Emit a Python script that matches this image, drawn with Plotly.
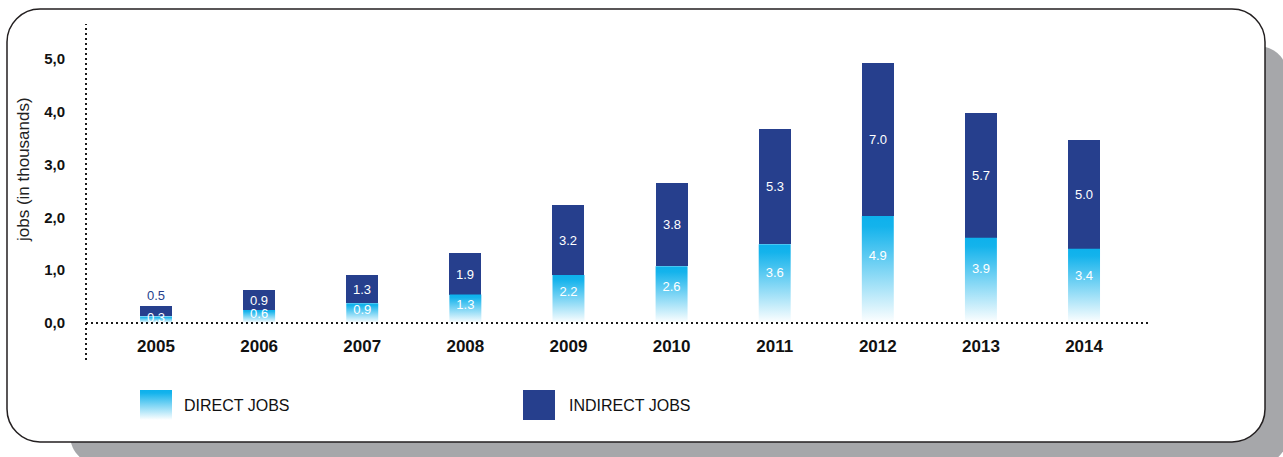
import base64
import plotly.graph_objects as go

# ---- data -------------------------------------------------------------
years = ["2005", "2006", "2007", "2008", "2009", "2010", "2011", "2012", "2013", "2014"]
direct_jobs = [0.3, 0.6, 0.9, 1.3, 2.2, 2.6, 3.6, 4.9, 3.9, 3.4]
indirect_jobs = [0.5, 0.9, 1.3, 1.9, 3.2, 3.8, 5.3, 7.0, 5.7, 5.0]
axis_ticks = [0, 1, 2, 3, 4, 5]
axis_title = "jobs (in thousands)"
legend_labels = ["DIRECT JOBS", "INDIRECT JOBS"]

# ---- styling ------------------------------------------------------------
FONT = "Liberation Sans, Arial, Helvetica, sans-serif"
NAVY = "#263f8d"
CYAN = "#0db1ec"
INK = "#1a1a1a"

W, H = 1283, 457
ML, MR, MT, MB = 86, 134, 24, 97
PW, PH = W - ML - MR, H - MT - MB

X_RANGE = [-0.679, 9.63]
AXIS_RANGE = [-0.70, 5.656]   # visible "jobs" axis
BAR_SCALE = 2.42              # bar axis shares the zero line, wider span
BAR_RANGE = [r * BAR_SCALE for r in AXIS_RANGE]
BAR_W = 0.31
LABEL_POS = 0.62              # direct label height as a share of its segment
DIRECT_FADE = [[0.0, "#ffffff"], [0.9, "#14b3ec"], [1.0, CYAN]]


def px(x):
    return (x - ML) / PW


def py(y):
    return 1 - (y - MT) / PH


def rounded_rect(x0, y0, x1, y1, r):
    k = 0.5523 * r
    pts = [
        ("M", [(x0 + r, y0)]),
        ("L", [(x1 - r, y0)]),
        ("C", [(x1 - r + k, y0), (x1, y0 + r - k), (x1, y0 + r)]),
        ("L", [(x1, y1 - r)]),
        ("C", [(x1, y1 - r + k), (x1 - r + k, y1), (x1 - r, y1)]),
        ("L", [(x0 + r, y1)]),
        ("C", [(x0 + r - k, y1), (x0, y1 - r + k), (x0, y1 - r)]),
        ("L", [(x0, y0 + r)]),
        ("C", [(x0, y0 + r - k), (x0 + r - k, y0), (x0 + r, y0)]),
    ]
    out = []
    for cmd, coords in pts:
        out.append(cmd + " ".join(f"{px(a):.5f},{py(b):.5f}" for a, b in coords))
    return " ".join(out) + " Z"


GRAD_SVG = (
    "<svg xmlns='http://www.w3.org/2000/svg' width='10' height='100' "
    "viewBox='0 0 10 100' preserveAspectRatio='none'>"
    "<defs><linearGradient id='g' x1='0' y1='0' x2='0' y2='1'>"
    f"<stop offset='0' stop-color='{CYAN}'/>"
    "<stop offset='0.1' stop-color='#14b3ec'/>"
    "<stop offset='1' stop-color='#ffffff'/>"
    "</linearGradient></defs>"
    "<rect width='10' height='100' fill='url(#g)'/></svg>"
)
GRAD_SRC = "data:image/svg+xml;base64," + base64.b64encode(GRAD_SVG.encode()).decode()

fig = go.Figure()

# stacked bars (direct segment is painted by the gradient fills below)
fig.add_trace(go.Bar(
    x=years, y=direct_jobs, yaxis="y2", width=BAR_W, name=legend_labels[0],
    marker=dict(color="rgba(0,0,0,0)", line=dict(width=0)),
    textposition="none", showlegend=False,
))
fig.add_trace(go.Bar(
    x=years, y=indirect_jobs, yaxis="y2", width=BAR_W, name=legend_labels[1],
    marker=dict(color=NAVY, line=dict(width=0)),
    text=[f"{v:.1f}" for v in indirect_jobs],
    # segments too short for a label carry it just above the bar
    textposition=["inside" if v >= 0.9 else "outside" for v in indirect_jobs],
    insidetextanchor="middle",
    insidetextfont=dict(family=FONT, size=13, color="white"),
    outsidetextfont=dict(family=FONT, size=13, color=NAVY),
    showlegend=False,
))

# vertical cyan-to-white fill for each direct-jobs segment
for i, v in enumerate(direct_jobs):
    half = BAR_W / 2
    fig.add_trace(go.Scatter(
        x=[i - half, i + half, i + half, i - half], y=[0, 0, v, v],
        xaxis="x2", yaxis="y2", mode="none", fill="toself",
        fillgradient=dict(type="vertical", colorscale=DIRECT_FADE),
        hoverinfo="skip", showlegend=False,
    ))

# value labels on the direct-jobs segments
fig.add_trace(go.Scatter(
    x=list(range(len(years))), y=[v * LABEL_POS for v in direct_jobs],
    xaxis="x2", yaxis="y2", mode="text",
    text=[f"{v:.1f}" for v in direct_jobs], textposition="middle center",
    textfont=dict(family=FONT, size=13, color="white"),
    cliponaxis=False, hoverinfo="skip", showlegend=False,
))

images = [
    # legend swatch for direct jobs
    dict(source=GRAD_SRC, xref="paper", yref="paper",
         x=px(140), y=py(390), sizex=px(172) - px(140), sizey=py(390) - py(420),
         xanchor="left", yanchor="top", sizing="stretch", layer="above"),
]

shapes = [
    # drop shadow and card frame
    dict(type="path", xref="paper", yref="paper", layer="below",
         path=rounded_rect(70, 46, 1288, 465, 30), fillcolor="#a6a7aa", line=dict(width=0)),
    dict(type="path", xref="paper", yref="paper", layer="below",
         path=rounded_rect(7, 9, 1265, 442, 33), fillcolor="white",
         line=dict(color="#231f20", width=1.5)),
    # dotted axes
    dict(type="line", xref="paper", yref="paper", x0=0, x1=0, y0=0, y1=1,
         line=dict(color=INK, width=2, dash="2px,3px")),
    dict(type="line", xref="paper", yref="y", x0=0, x1=1, y0=0, y1=0,
         line=dict(color=INK, width=2, dash="2px,3px")),
    # legend swatch for indirect jobs
    dict(type="rect", xref="paper", yref="paper", x0=px(523), x1=px(555),
         y0=py(420), y1=py(390), fillcolor=NAVY, line=dict(width=0)),
]

annotations = [
    dict(text=axis_title, xref="paper", yref="paper", x=px(23), y=py(170),
         textangle=-90, showarrow=False, xanchor="center", yanchor="middle",
         font=dict(family=FONT, size=17, color="#222")),
    dict(text=legend_labels[0], xref="paper", yref="paper", x=px(182), y=py(405),
         showarrow=False, xanchor="left", yanchor="middle",
         font=dict(family=FONT, size=16, color="#111")),
    dict(text=legend_labels[1], xref="paper", yref="paper", x=px(567), y=py(405),
         showarrow=False, xanchor="left", yanchor="middle",
         font=dict(family=FONT, size=16, color="#111")),
]

fig.update_layout(
    width=W, height=H,
    margin=dict(l=ML, r=MR, t=MT, b=MB, pad=0),
    paper_bgcolor="white", plot_bgcolor="rgba(0,0,0,0)",
    barmode="stack", bargap=0,
    separators=",.",
    uniformtext=dict(minsize=13, mode="show"),
    showlegend=False,
    font=dict(family=FONT, color=INK),
    xaxis=dict(type="category", range=X_RANGE, anchor="free",
               position=(360 - 323) / PH,
               showgrid=False, zeroline=False, showline=False, ticks="",
               tickfont=dict(family=FONT, size=17, color="#111", weight="bold"),
               ticklabelstandoff=11),
    # numeric twin of the category axis, used for the gradient fills
    xaxis2=dict(range=X_RANGE, overlaying="x", anchor="y2",
                showticklabels=False, showgrid=False, zeroline=False,
                showline=False, ticks=""),
    # displayed "jobs" scale
    yaxis=dict(range=AXIS_RANGE, tickvals=axis_ticks, tickformat=".1f",
               showgrid=False, zeroline=False, showline=False, ticks="",
               tickfont=dict(family=FONT, size=15, color="#111", weight="bold"),
               ticklabelstandoff=20),
    # bar scale (ticks hidden)
    yaxis2=dict(range=BAR_RANGE, overlaying="y", side="right",
                showticklabels=False, showgrid=False, zeroline=False,
                showline=False, ticks=""),
    shapes=shapes, images=images, annotations=annotations,
)

fig.write_html("out.html")
